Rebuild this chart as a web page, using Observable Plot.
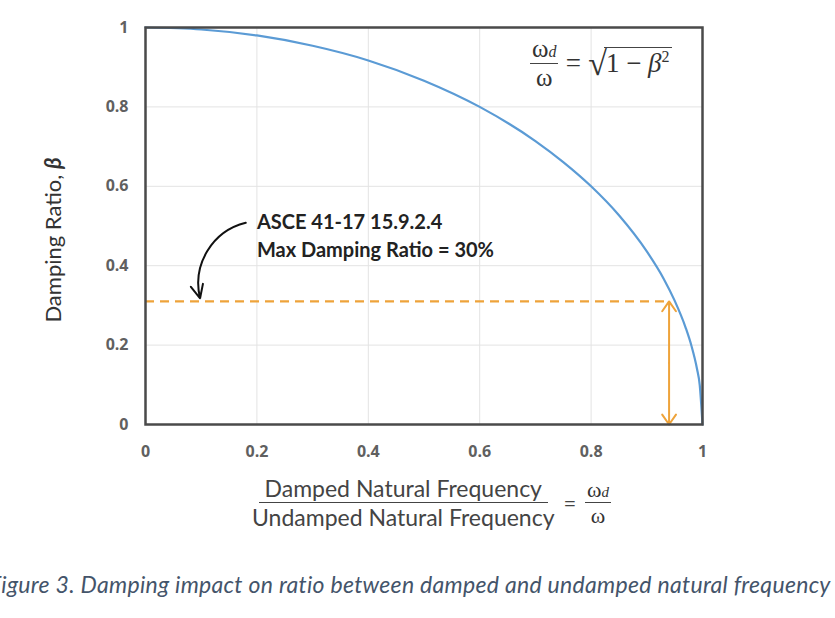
<!DOCTYPE html>
<html>
<head>
<meta charset="utf-8">
<script src="https://cdn.jsdelivr.net/npm/d3@7"></script>
<script src="https://cdn.jsdelivr.net/npm/@observablehq/plot@0.6"></script>
<style>
  html, body { margin: 0; padding: 0; background: #fff; overflow: hidden; }
  #wrap { position: relative; width: 835px; height: 618px; overflow: hidden; }
  #chart { position: absolute; left: 0; top: 0; }
  .ov { position: absolute; white-space: nowrap; }
  .serif { font-family: "Liberation Serif", "DejaVu Serif", serif; color: #333; }
  .frac { display: inline-flex; flex-direction: column; align-items: center; vertical-align: middle; line-height: 1.05; }
  .frac .num { padding: 0 2px 1px 2px; border-bottom: 1.5px solid #444; }
  .frac .den { padding-top: 1px; }
</style>
</head>
<body>
<div id="wrap">
  <div id="chart"></div>
  <div class="ov serif" id="formula" style="left:530px; top:36px; font-size:25px;">
    <span class="frac"><span class="num">ω<i style="font-size:16px">d</i></span><span class="den">ω</span></span>
    <span style="vertical-align:middle; font-size:27px; margin:0 1px;">=</span>
    <span style="vertical-align:middle; font-size:34px;">√</span><span style="vertical-align:middle; border-top:1.5px solid #444; padding:0 2px; margin-left:-3px; font-size:27px; line-height:1.1;">1 − <i>β</i><sup style="font-size:16px">2</sup></span>
  </div>
  <div class="ov" id="ylab" style="left:52px; top:240px; transform: translate(-50%,-50%) rotate(-90deg); font-family: Lato, 'Open Sans', sans-serif; font-size:22px; color:#333;">Damping Ratio, <b><i>β</i></b></div>
  <div class="ov" id="xlab" style="left:252px; top:476px; font-family: Lato, 'Open Sans', sans-serif; font-size:23px; color:#444;">
    <span class="frac"><span class="num" style="padding:0 6px 2px 6px;">Damped Natural Frequency</span><span class="den" style="padding-top:2px;">Undamped Natural Frequency</span></span>
    <span style="vertical-align:middle; font-size:22px; margin:0 3px;">=</span>
    <span class="frac serif" style="font-size:22px;"><span class="num">ω<i style="font-size:15px">d</i></span><span class="den">ω</span></span>
  </div>
  <div class="ov" id="cap" style="left:-11px; top:570px; font-family: Lato, 'Open Sans', sans-serif; font-style: italic; font-size:23px; letter-spacing:0.3px; color:#44546a;">Figure 3. Damping impact on ratio between damped and undamped natural frequency</div>
</div>
<script>
// Curve: frequency ratio (x) vs damping ratio (y)
const freqRatio = [0, 0.1, 0.2, 0.3, 0.4, 0.5, 0.6, 0.7, 0.75, 0.8, 0.85, 0.9, 0.93, 0.95, 0.97, 0.98, 0.99, 0.995, 1];
const dampRatio = [1, 0.995, 0.98, 0.954, 0.917, 0.866, 0.8, 0.714, 0.661, 0.6, 0.527, 0.436, 0.368, 0.312, 0.243, 0.199, 0.141, 0.1, 0];
const xTicks = [0, 0.2, 0.4, 0.6, 0.8, 1];
const yTicks = [0, 0.2, 0.4, 0.6, 0.8, 1];
const gridTicks = [0.2, 0.4, 0.6, 0.8];
// Max damping limit annotation
const maxDamping = 0.31;
const limitFreq = 0.94;
const noteLine1 = "ASCE 41-17 15.9.2.4";
const noteLine2 = "Max Damping Ratio = 30%";
const noteAnchor = {x: 0.2, y: 0.508};
const noteArrowStart = {x: 0.18, y: 0.508};
const noteArrowEnd = {x: 0.098, y: 0.318};

const curve = freqRatio.map((x, i) => ({x, y: dampRatio[i]}));
const blue = "#5b9bd5";
const orange = "#eea33a";
const noteFont = "Lato, 'Open Sans', sans-serif";

const plot = Plot.plot({
  width: 835,
  height: 470,
  marginLeft: 145,
  marginRight: 133,
  marginTop: 27,
  marginBottom: 46,
  style: {fontFamily: "'Open Sans', sans-serif", background: "transparent"},
  x: {domain: [0, 1]},
  y: {domain: [0, 1]},
  marks: [
    Plot.gridX(gridTicks, {stroke: "#e3e3e3", strokeOpacity: 1, strokeWidth: 1}),
    Plot.gridY(gridTicks, {stroke: "#e3e3e3", strokeOpacity: 1, strokeWidth: 1}),
    Plot.axisX({ticks: xTicks, tickSize: 0, tickPadding: 21, tickFormat: d => String(d), fontSize: 16, fontWeight: "bold", fill: "#606060", label: null}),
    Plot.axisY({ticks: yTicks, tickSize: 0, tickPadding: 17, tickFormat: d => String(d), fontSize: 16, fontWeight: "bold", fill: "#606060", label: null}),
    Plot.ruleY([maxDamping], {x1: 0, x2: limitFreq, stroke: orange, strokeWidth: 2.2, strokeDasharray: "9,6"}),
    Plot.arrow([{y1: maxDamping / 2, y2: maxDamping}], {x: limitFreq, y1: "y1", y2: "y2", stroke: orange, strokeWidth: 2, headLength: 9, headAngle: 70}),
    Plot.arrow([{y1: maxDamping / 2, y2: 0}], {x: limitFreq, y1: "y1", y2: "y2", stroke: orange, strokeWidth: 2, headLength: 9, headAngle: 70}),
    Plot.line(curve, {x: "x", y: "y", stroke: blue, strokeWidth: 2.2, curve: "monotone-x"}),
    Plot.frame({stroke: "#4a4a4a", strokeWidth: 2.5}),
    Plot.arrow([{...noteArrowStart, x2: noteArrowEnd.x, y2: noteArrowEnd.y}], {x1: "x", y1: "y", x2: "x2", y2: "y2", bend: -45, stroke: "#111", strokeWidth: 2, headLength: 11, headAngle: 50}),
    Plot.text([noteLine1], {x: noteAnchor.x, y: noteAnchor.y, text: d => d, lineAnchor: "middle", textAnchor: "start", fontSize: 20, fontWeight: "bold", fill: "#222", fontFamily: noteFont}),
    Plot.text([noteLine2], {x: noteAnchor.x, y: noteAnchor.y, dy: 28, text: d => d, lineAnchor: "middle", textAnchor: "start", fontSize: 20, fontWeight: "bold", fill: "#222", fontFamily: noteFont})
  ]
});
document.getElementById("chart").appendChild(plot);
</script>
</body>
</html>
